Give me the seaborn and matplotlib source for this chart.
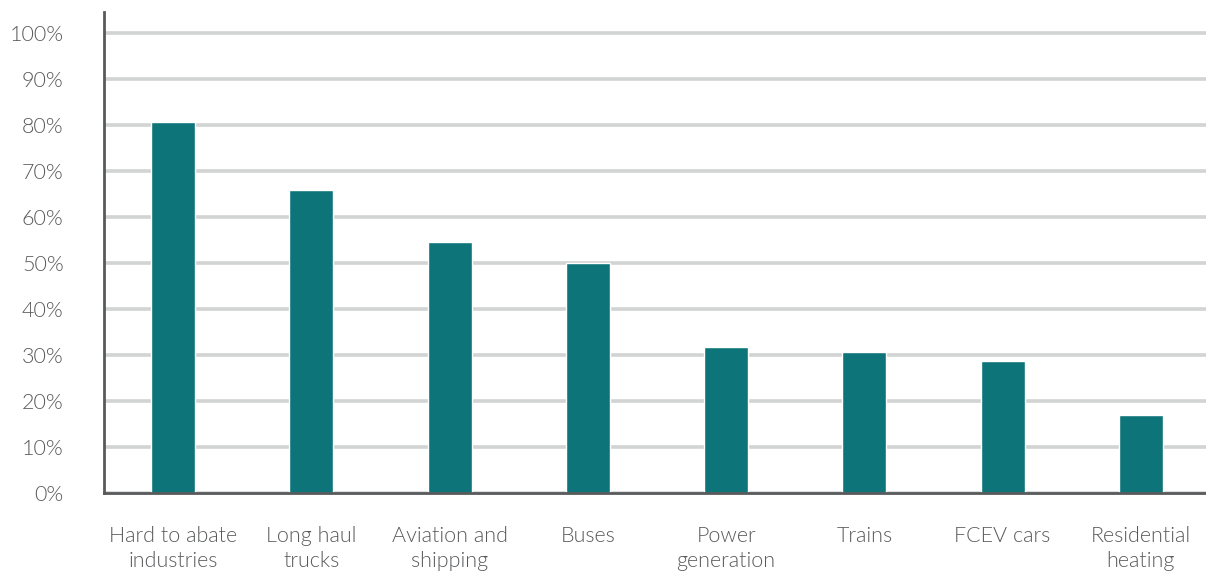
import matplotlib
matplotlib.use("Agg")
import matplotlib.pyplot as plt
import seaborn as sns
import pandas as pd
from matplotlib.ticker import FuncFormatter

categories = [
    "Hard to abate\nindustries",
    "Long haul\ntrucks",
    "Aviation and\nshipping",
    "Buses",
    "Power\ngeneration",
    "Trains",
    "FCEV cars",
    "Residential\nheating",
]
shares = [80.7, 66.0, 54.6, 50.1, 31.8, 30.7, 28.6, 17.0]
y_ticks = list(range(0, 101, 10))

df = pd.DataFrame({"category": categories, "share": shares})

sns.set_style("white")
plt.rcParams["font.family"] = ["Lato", "DejaVu Sans"]
plt.rcParams["font.weight"] = 300

fig = plt.figure(figsize=(12.06, 5.72), dpi=100)
ax = fig.add_axes([104 / 1206, 79 / 572, 1106 / 1206, 481 / 572])

sns.barplot(data=df, x="category", y="share", color="#0d7479",
            width=0.318, saturation=1, ax=ax, zorder=3)

ax.set_xlim(-0.5, 7.5)
ax.set_ylim(0, 104.6)
ax.set_yticks(y_ticks)
ax.yaxis.set_major_formatter(FuncFormatter(lambda v, p: f"{int(v)}%"))
ax.set_xticks(range(len(categories)), categories, linespacing=1.3,
              fontweight=300)

ax.grid(axis="y", color="#d2d3d3", linewidth=2.6, zorder=0)
ax.grid(axis="x", visible=False)
ax.set_axisbelow(True)

for side in ["top", "right"]:
    ax.spines[side].set_visible(False)
for side in ["left", "bottom"]:
    ax.spines[side].set_color("#58595b")
    ax.spines[side].set_linewidth(2)
    ax.spines[side].set_zorder(4)

ax.tick_params(axis="y", length=0, pad=29, labelsize=15.5, labelcolor="#58595b")
ax.tick_params(axis="x", length=0, pad=24, labelsize=15.5, labelcolor="#58595b")

ax.set_xlabel("")
ax.set_ylabel("")

fig.savefig("out.png", dpi=100)
